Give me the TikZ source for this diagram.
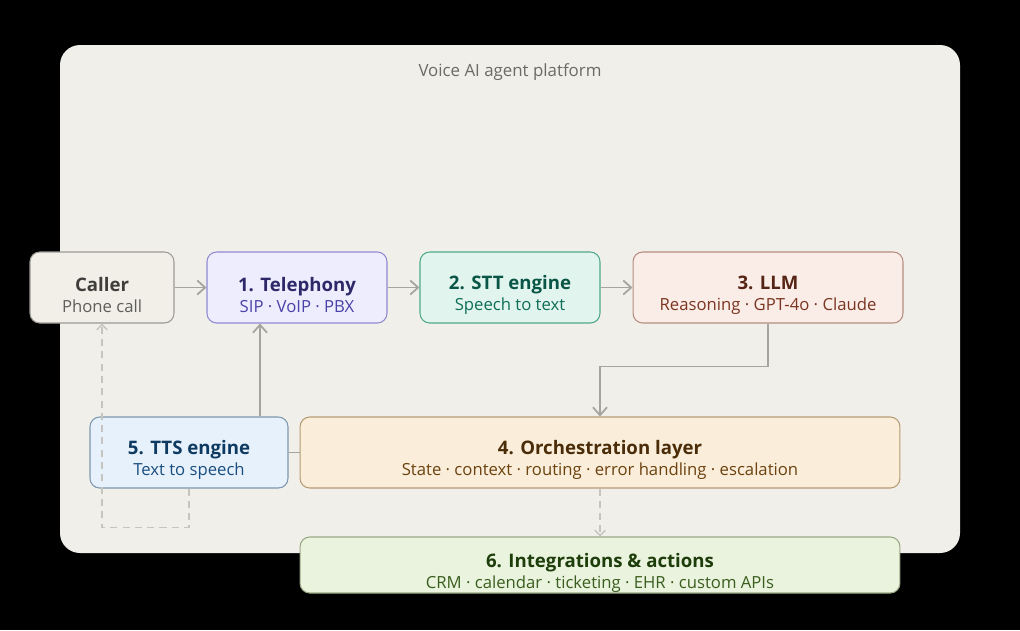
\documentclass[tikz,border=0pt]{standalone}
\usepackage{fontspec}
\setmainfont{Open Sans}
\usepackage{xcolor}
\usetikzlibrary{arrows.meta,positioning}
\definecolor{panelfill}{HTML}{F1EFEA}
\definecolor{panelgrey}{HTML}{6B6A66}
\definecolor{flowgrey}{HTML}{A6A49E}
\definecolor{dashgrey}{HTML}{C6C4BE}
\definecolor{callerfill}{HTML}{F1EFE8}
\definecolor{callerdraw}{HTML}{9C9A94}
\definecolor{callertop}{HTML}{3F3E3B}
\definecolor{callersub}{HTML}{5F5E5A}
\definecolor{telfill}{HTML}{EEEDFE}
\definecolor{teldraw}{HTML}{8F89D2}
\definecolor{teltop}{HTML}{2E2868}
\definecolor{telsub}{HTML}{4A42A8}
\definecolor{sttfill}{HTML}{E1F5EE}
\definecolor{sttdraw}{HTML}{4FA98A}
\definecolor{stttop}{HTML}{0A5646}
\definecolor{sttsub}{HTML}{0F6E56}
\definecolor{llmfill}{HTML}{FAECE7}
\definecolor{llmdraw}{HTML}{B48D80}
\definecolor{llmtop}{HTML}{562414}
\definecolor{llmsub}{HTML}{7A3520}
\definecolor{ttsfill}{HTML}{E6F1FB}
\definecolor{ttsdraw}{HTML}{7D97AE}
\definecolor{ttstop}{HTML}{0E3A62}
\definecolor{ttssub}{HTML}{1A4E80}
\definecolor{orchfill}{HTML}{FAEEDA}
\definecolor{orchdraw}{HTML}{B49C74}
\definecolor{orchtop}{HTML}{4A2C08}
\definecolor{orchsub}{HTML}{6B4210}
\definecolor{integfill}{HTML}{EAF3DE}
\definecolor{integdraw}{HTML}{9AA784}
\definecolor{integtop}{HTML}{1D3D0A}
\definecolor{integsub}{HTML}{3A5E1E}
\newcommand{\boxlines}[4]{{\rule{0pt}{17pt}\color{#1}\fontsize{10.6}{13}\selectfont\bfseries #2}\\{\color{#3}\fontsize{9.5}{14}\selectfont #4}}

\begin{document}
\begin{tikzpicture}[x=0.02cm,y=-0.02cm,
  box/.style={rounded corners=5.5pt,line width=0.6pt,minimum height=1.42cm,align=center,inner sep=0pt},
  flow/.style={draw=flowgrey,line width=1pt,-{Straight Barb[length=4.5pt,width=8pt,line width=1pt]}},
  dashflow/.style={draw=dashgrey,line width=0.8pt,dash pattern=on 4pt off 3pt,-{Straight Barb[length=3pt,width=6pt]}}]
\fill[black](0,0) rectangle (1020,630);
\fill[panelfill,rounded corners=0.4cm](60,45) rectangle (960,553);
\node[text=panelgrey,font=\fontsize{9.6}{12}\selectfont] (paneltitle) at (510,72) {Voice AI agent platform};
\node[box,draw=callerdraw,fill=callerfill,minimum width=2.88cm] (caller) at (102,287.5) {\boxlines{callertop}{Caller}{callersub}{Phone call}};
\node[box,draw=teldraw,fill=telfill,minimum width=3.6cm] (tel) at (297,287.5) {\boxlines{teltop}{1. Telephony}{telsub}{SIP · VoIP · PBX}};
\node[box,draw=sttdraw,fill=sttfill,minimum width=3.6cm] (stt) at (510,287.5) {\boxlines{stttop}{2. STT engine}{sttsub}{Speech to text}};
\node[box,draw=llmdraw,fill=llmfill,minimum width=5.4cm] (llm) at (768,287.5) {\boxlines{llmtop}{3. LLM}{llmsub}{Reasoning · GPT-4o · Claude}};
\node[box,draw=ttsdraw,fill=ttsfill,minimum width=3.96cm] (tts) at (189,452.5) {\boxlines{ttstop}{5. TTS engine}{ttssub}{Text to speech}};
\node[box,draw=orchdraw,fill=orchfill,minimum width=12cm] (orch) at (600,452.5) {\boxlines{orchtop}{4. Orchestration layer}{orchsub}{State · context · routing · error handling · escalation}};
\node[box,draw=integdraw,fill=integfill,minimum width=12cm,minimum height=1.12cm] (integ) at (600,565) {\boxlines{integtop}{6. Integrations \& actions}{integsub}{CRM · calendar · ticketing · EHR · custom APIs}};
\coordinate (ttsup) at (260,417);
\draw[flow](caller.east) -- (tel.west);
\draw[flow](tel.east) -- (stt.west);
\draw[flow](stt.east) -- (llm.west);
\draw[flow](llm.south) -- ++(0,43) -| (orch.north);
\draw[flowgrey,line width=1pt](orch.west) -- (tts.east);
\draw[flow](tts.north -| ttsup) -- (tel.south -| ttsup);
\draw[dashflow](tts.south) -- ++(0,39) -| (caller.south);
\draw[dashflow](orch.south) -- (integ.north);
\end{tikzpicture}
\end{document}
